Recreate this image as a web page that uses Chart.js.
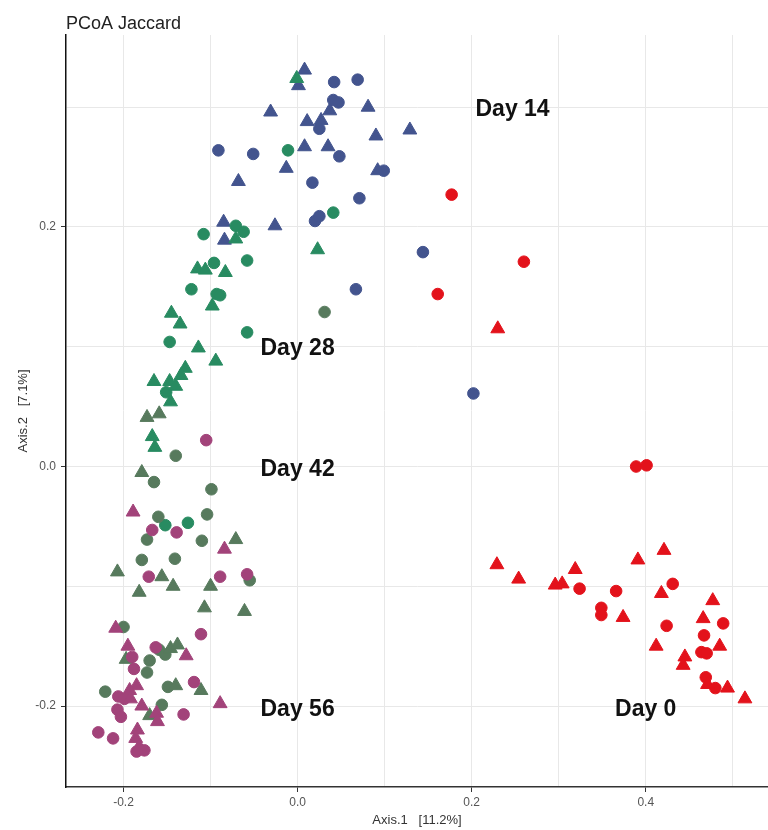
<!DOCTYPE html>
<html><head><meta charset="utf-8">
<script src="https://cdn.jsdelivr.net/npm/chart.js@4.4.1/dist/chart.umd.min.js"></script>
<style>html,body{margin:0;padding:0;background:#fff;overflow:hidden}#wrap{width:768px;height:830px}</style>
</head><body><div id="wrap"><canvas id="c" width="768" height="830"></canvas></div>
<script>
const chartTitle = 'PCoA Jaccard';
const xAxisTitle = 'Axis.1   [11.2%]';
const yAxisTitle = 'Axis.2   [7.1%]';
const categories = ['Day 0', 'Day 14', 'Day 28', 'Day 42', 'Day 56'];
const xTickValues = [-0.2, -0.1, 0, 0.1, 0.2, 0.3, 0.4, 0.5];
const yTickValues = [-0.2, -0.1, 0, 0.1, 0.2, 0.3];

const dayLabels = ['Day 14', 'Day 28', 'Day 42', 'Day 56', 'Day 0'];
const dayLabelX = [0.247, 0.0, 0.0, 0.0, 0.400];
const dayLabelY = [0.298, 0.098, -0.003, -0.203, -0.203];

const day0Circles = [[0.177,0.227],[0.260,0.171],[0.161,0.144],[0.389,0.000],[0.401,0.001],[0.324,-0.102],[0.366,-0.104],[0.431,-0.098],[0.349,-0.118],[0.349,-0.124],[0.489,-0.131],[0.424,-0.133],[0.467,-0.141],[0.464,-0.155],[0.470,-0.156],[0.469,-0.176],[0.480,-0.185]];
const day0Triangles = [[0.230,0.115],[0.229,-0.082],[0.254,-0.094],[0.296,-0.099],[0.304,-0.098],[0.319,-0.086],[0.391,-0.078],[0.421,-0.070],[0.418,-0.106],[0.374,-0.126],[0.477,-0.112],[0.466,-0.127],[0.412,-0.150],[0.485,-0.150],[0.445,-0.159],[0.443,-0.166],[0.471,-0.182],[0.494,-0.185],[0.514,-0.194]];
const day14Circles = [[0.042,0.321],[0.069,0.323],[0.041,0.306],[0.047,0.304],[0.025,0.282],[-0.091,0.264],[-0.051,0.261],[0.048,0.259],[0.099,0.247],[0.017,0.237],[0.071,0.224],[0.020,0.205],[0.025,0.209],[0.144,0.179],[0.067,0.148],[0.202,0.061]];
const day14Triangles = [[0.008,0.331],[0.001,0.318],[0.037,0.297],[-0.031,0.296],[0.081,0.300],[0.011,0.288],[0.027,0.289],[0.129,0.281],[0.090,0.276],[0.008,0.267],[0.035,0.267],[-0.013,0.249],[0.092,0.247],[-0.068,0.238],[-0.085,0.204],[-0.026,0.201],[-0.084,0.189]];
const day28Circles = [[-0.011,0.264],[0.041,0.212],[-0.071,0.201],[-0.062,0.196],[-0.108,0.194],[-0.058,0.172],[-0.096,0.170],[-0.122,0.148],[-0.093,0.144],[-0.089,0.143],[-0.058,0.112],[-0.147,0.104],[-0.151,0.062],[-0.152,-0.049],[-0.126,-0.047]];
const day28Triangles = [[-0.001,0.324],[-0.071,0.190],[0.023,0.181],[-0.115,0.165],[-0.106,0.164],[-0.083,0.162],[-0.098,0.134],[-0.145,0.128],[-0.135,0.119],[-0.114,0.099],[-0.094,0.088],[-0.129,0.082],[-0.134,0.076],[-0.165,0.071],[-0.147,0.071],[-0.140,0.067],[-0.146,0.054],[-0.167,0.025],[-0.164,0.016]];
const day42Circles = [[0.031,0.129],[-0.140,0.009],[-0.165,-0.013],[-0.099,-0.019],[-0.160,-0.042],[-0.104,-0.040],[-0.173,-0.061],[-0.110,-0.062],[-0.179,-0.078],[-0.141,-0.077],[-0.055,-0.095],[-0.200,-0.134],[-0.159,-0.153],[-0.152,-0.157],[-0.170,-0.162],[-0.173,-0.172],[-0.149,-0.184],[-0.221,-0.188],[-0.156,-0.199]];
const day42Triangles = [[-0.173,0.041],[-0.159,0.044],[-0.179,-0.005],[-0.071,-0.061],[-0.207,-0.088],[-0.156,-0.092],[-0.143,-0.100],[-0.182,-0.105],[-0.100,-0.100],[-0.107,-0.118],[-0.061,-0.121],[-0.146,-0.152],[-0.138,-0.149],[-0.197,-0.161],[-0.140,-0.183],[-0.111,-0.187],[-0.170,-0.208]];
const day56Circles = [[-0.105,0.022],[-0.167,-0.053],[-0.139,-0.055],[-0.171,-0.092],[-0.089,-0.092],[-0.058,-0.090],[-0.111,-0.140],[-0.163,-0.151],[-0.190,-0.159],[-0.188,-0.169],[-0.119,-0.180],[-0.206,-0.192],[-0.199,-0.194],[-0.207,-0.203],[-0.203,-0.209],[-0.131,-0.207],[-0.229,-0.222],[-0.212,-0.227],[-0.176,-0.237],[-0.185,-0.238]];
const day56Triangles = [[-0.189,-0.038],[-0.084,-0.069],[-0.209,-0.135],[-0.195,-0.150],[-0.128,-0.158],[-0.185,-0.183],[-0.193,-0.187],[-0.192,-0.194],[-0.089,-0.198],[-0.179,-0.200],[-0.162,-0.206],[-0.161,-0.213],[-0.184,-0.220],[-0.186,-0.227],[-0.182,-0.234]];

const colors = ['#e3121b', '#43548e', '#288b61', '#577a5d', '#a2437a'];

const FONT = "Arial, 'Liberation Sans', Helvetica, sans-serif";
const isMajor = v => Math.abs(Math.round(v * 10)) % 2 === 0;

function makeSet(label, pts, color, shape, order) {
  return {
    label: label,
    data: pts.map(p => ({ x: p[0], y: p[1] })),
    pointStyle: shape,
    backgroundColor: color,
    borderColor: color,
    pointRadius: shape === 'triangle' ? 8 : 5.8,
    pointHoverRadius: shape === 'triangle' ? 8 : 5.8,
    pointBorderWidth: 1,
    showLine: false,
    order: order
  };
}

const datasets = [
  makeSet(categories[0] + ' circle', day0Circles, colors[0], 'circle', 9),
  makeSet(categories[0] + ' triangle', day0Triangles, colors[0], 'triangle', 8),
  makeSet(categories[1] + ' circle', day14Circles, colors[1], 'circle', 7),
  makeSet(categories[1] + ' triangle', day14Triangles, colors[1], 'triangle', 6),
  makeSet(categories[2] + ' circle', day28Circles, colors[2], 'circle', 5),
  makeSet(categories[2] + ' triangle', day28Triangles, colors[2], 'triangle', 4),
  makeSet(categories[3] + ' circle', day42Circles, colors[3], 'circle', 3),
  makeSet(categories[3] + ' triangle', day42Triangles, colors[3], 'triangle', 2),
  makeSet(categories[4] + ' circle', day56Circles, colors[4], 'circle', 1),
  makeSet(categories[4] + ' triangle', day56Triangles, colors[4], 'triangle', 0)
];

const annot = {
  id: 'annot',
  afterDatasetsDraw(chart) {
    const { ctx, scales: { x, y }, chartArea } = chart;
    ctx.save();
    ctx.font = 'bold 23px ' + FONT;
    ctx.fillStyle = '#111';
    ctx.textAlign = 'center';
    ctx.textBaseline = 'middle';
    dayLabels.forEach((t, i) => {
      ctx.fillText(t, x.getPixelForValue(dayLabelX[i]), y.getPixelForValue(dayLabelY[i]));
    });
    ctx.font = '18px ' + FONT;
    ctx.textAlign = 'left';
    ctx.textBaseline = 'alphabetic';
    ctx.fillStyle = '#222';
    ctx.fillText(chartTitle, chartArea.left, 29);
    ctx.restore();
  }
};

const tickColorFn = c => (c.tick && isMajor(c.tick.value)) ? '#333' : 'rgba(0,0,0,0)';

new Chart(document.getElementById('c'), {
  type: 'scatter',
  data: { datasets: datasets },
  options: {
    responsive: false,
    animation: false,
    layout: { autoPadding: false, padding: { top: 35, left: 0, right: 0, bottom: 0 } },
    plugins: { legend: { display: false }, tooltip: { enabled: false }, title: { display: false } },
    scales: {
      x: {
        type: 'linear',
        min: -0.2661,
        max: 0.5405,
        afterBuildTicks: s => { s.ticks = xTickValues.map(v => ({ value: v })); },
        afterFit: s => { s.height = 43; s.paddingLeft = 0; s.paddingRight = 0; },
        grid: { color: '#e8e8e8', lineWidth: 1, drawTicks: true, tickLength: 5, tickColor: tickColorFn, tickWidth: 1 },
        border: { display: true, color: '#333', width: 1.5 },
        ticks: { font: { family: FONT, size: 12 }, color: '#555', padding: 3, maxRotation: 0, autoSkip: false,
          callback: v => isMajor(v) ? Number(v).toFixed(1) : '' },
        title: { display: true, text: xAxisTitle, font: { family: FONT, size: 13 }, color: '#333', padding: { top: 0, bottom: 2 } }
      },
      y: {
        type: 'linear',
        min: -0.2676,
        max: 0.3603,
        afterBuildTicks: s => { s.ticks = yTickValues.map(v => ({ value: v })); },
        afterFit: s => { s.width = 66; s.paddingTop = 0; s.paddingBottom = 0; },
        grid: { color: '#e8e8e8', lineWidth: 1, drawTicks: true, tickLength: 5, tickColor: tickColorFn, tickWidth: 1 },
        border: { display: true, color: '#111', width: 1.5 },
        ticks: { font: { family: FONT, size: 12 }, color: '#555', padding: 5, autoSkip: false,
          callback: v => isMajor(v) ? Number(v).toFixed(1) : '' },
        title: { display: true, text: yAxisTitle, font: { family: FONT, size: 13 }, color: '#333', padding: { top: 16, bottom: 0 } }
      }
    }
  },
  plugins: [annot]
});
</script>
</body></html>
